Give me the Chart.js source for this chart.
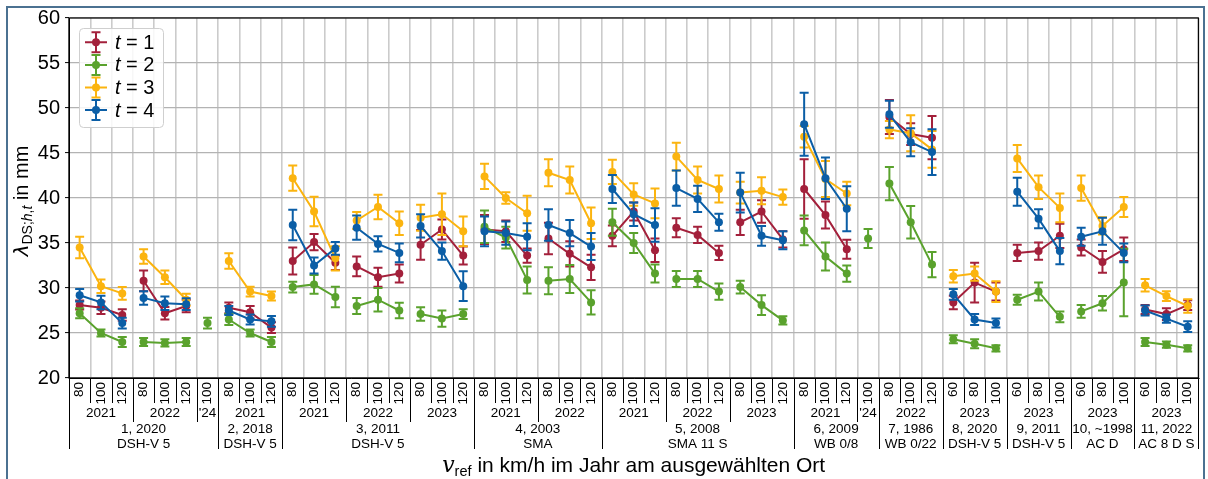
<!DOCTYPE html>
<html>
<head>
<meta charset="utf-8">
<script src="https://cdn.jsdelivr.net/npm/chart.js@4.4.1/dist/chart.umd.min.js"></script>
<style>
  html, body { margin: 0; padding: 0; background: #fff; }
  #wrap { width: 1208px; height: 479px; position: relative; }
</style>
</head>
<body>
<div id="wrap"><canvas id="c" width="1208" height="479"></canvas></div>
<script>
// Reference speed per category (km/h), grouped by measurement year and site
const speeds = [
  '80','100','120','80','100','120','100',
  '80','100','120',
  '80','100','120','80','100','120','80','100','120',
  '80','100','120','80','100','120',
  '80','100','120','80','100','120','80','100','120',
  '80','100','120','100',
  '80','100','120',
  '60','80','100',
  '60','80','100',
  '60','80','100',
  '60','80','100'
];
const yearLabels = ['2021','2022',"'24",'2021','2021','2022','2023','2021','2022',
  '2021','2022','2023','2021',"'24",'2022','2023','2023','2023','2023'];
const yearSizes  = [3,3,1,3,3,3,3,3,3,3,3,3,3,1,3,3,3,3,3];
const siteLabels = [
  ['1, 2020','DSH-V 5'], ['2, 2018','DSH-V 5'], ['3, 2011','DSH-V 5'],
  ['4, 2003','SMA'], ['5, 2008','SMA 11 S'], ['6, 2009','WB 0/8'],
  ['7, 1986','WB 0/22'], ['8, 2020','DSH-V 5'], ['9, 2011','DSH-V 5'],
  ['10, ~1998','AC D'], ['11, 2022','AC 8 D S']
];
const siteSizes = [7,3,9,6,9,4,3,3,3,3,3];

const yTicks = [20,25,30,35,40,45,50,55,60];

// lambda per section t (mm) and its uncertainty
const t1 = [28.1,27.8,27.0,30.8,27.2,28.0,null, 27.8,27.3,25.6,
  33.0,35.1,32.8,32.4,31.2,31.6,34.8,36.5,33.6,
  36.5,36.3,33.6,35.5,33.8,32.3,
  35.8,38.5,34.2,36.7,35.9,33.9,37.3,38.5,35.4,
  41.0,38.1,34.3,null, 49.0,47.1,46.7,
  28.4,30.6,29.6, 33.9,34.1,35.8, 34.5,32.9,34.3, 27.6,27.1,28.1];
const t1Err = [0.5,0.7,0.65,1.15,0.7,0.7,null, 0.6,0.7,0.6,
  1.5,0.9,0.8,1.1,1.05,1.0,1.65,1.1,1.0,
  1.6,1.2,0.8,1.75,1.4,1.4,
  1.15,1.0,1.3,1.05,0.9,0.8,1.4,1.25,0.9,
  3.3,1.5,1.05,null, 1.9,1.2,2.4,
  0.75,2.2,1.0, 0.9,0.95,1.35, 0.9,1.2,1.3, 0.5,0.65,0.55];

const t2 = [27.2,25.0,24.0,24.0,23.9,24.0,26.1, 26.5,25.0,24.0,
  30.1,30.4,29.0,28.0,28.7,27.5,27.1,26.6,27.1,
  36.8,35.6,30.9,30.8,31.0,28.4,
  37.3,35.0,31.6,31.0,31.0,29.6,30.1,28.1,26.4,
  36.4,33.5,31.6,35.5, 41.6,37.3,32.6,
  24.3,23.8,23.3, 28.7,29.6,26.8, 27.4,28.3,30.6, 24.0,23.7,23.3];
const t2Err = [0.55,0.4,0.55,0.45,0.4,0.45,0.6, 0.6,0.4,0.55,
  0.6,1.05,1.15,0.9,1.3,0.85,0.75,0.9,0.55,
  1.8,1.2,1.5,1.5,1.55,1.35,
  1.5,1.1,1.0,0.9,0.9,0.9,0.7,1.1,0.45,
  1.65,1.55,0.9,1.05, 1.85,1.8,1.4,
  0.45,0.5,0.35, 0.55,1.0,0.6, 0.7,0.8,3.75, 0.45,0.35,0.35];

const t3 = [34.5,30.2,29.4,33.5,31.2,28.7,null, 33.0,29.6,29.1,
  42.2,38.5,33.3,37.5,39.0,37.2,37.8,38.2,36.3,
  42.4,40.0,38.3,42.8,42.0,37.2,
  42.9,40.4,39.4,44.6,42.0,41.0,40.6,40.8,40.1,
  46.8,42.1,40.5,null, 47.6,47.2,45.4,
  31.3,31.6,29.6, 44.4,41.2,38.9, 41.1,36.9,39.0, 30.3,29.1,28.0];
const t3Err = [1.2,0.75,0.7,0.8,0.75,0.65,null, 0.85,0.55,0.5,
  1.4,1.65,1.35,0.95,1.35,1.3,1.45,2.3,1.65,
  1.4,0.65,1.95,1.5,1.5,1.75,
  1.35,1.25,1.65,1.55,1.5,1.5,1.2,1.5,0.85,
  1.2,2.0,1.3,null, 0.95,2.0,2.05,
  0.7,0.8,1.15, 1.5,1.3,1.6, 1.4,0.95,1.1, 0.7,0.55,0.75];

const t4 = [29.2,28.4,26.1,28.9,28.3,28.2,null, 27.5,26.5,26.3,
  37.0,32.5,34.4,36.7,34.9,33.9,36.9,34.1,30.2,
  36.3,36.1,35.7,37.0,36.1,34.6,
  41.0,38.2,37.0,41.1,39.9,37.3,40.6,35.8,35.3,
  48.2,42.2,38.8,null, 49.3,46.2,45.1,
  29.3,26.5,26.1, 40.7,37.7,34.1, 35.7,36.3,33.9, 27.5,26.6,25.7];
const t4Err = [0.7,0.75,0.6,0.75,0.75,0.65,null, 0.5,0.55,0.6,
  1.7,0.9,0.7,1.35,0.85,1.05,1.3,0.95,1.65,
  1.65,1.3,1.5,1.75,1.45,1.5,
  1.55,1.3,1.85,1.95,1.45,0.95,2.2,1.1,1.0,
  3.5,2.3,2.5,null, 1.5,1.55,2.55,
  0.6,0.6,0.5, 1.55,1.05,1.45, 1.0,1.5,1.05, 0.55,0.45,0.6];

const SANS = "'Liberation Sans', Arial, Helvetica, sans-serif";

const series = [
  { name: '1', values: t1, errors: t1Err, color: '#a3203b' },
  { name: '2', values: t2, errors: t2Err, color: '#5aa22d' },
  { name: '3', values: t3, errors: t3Err, color: '#fbb40f' },
  { name: '4', values: t4, errors: t4Err, color: '#0b5ea6' }
];

function starts(sizes) {
  const out = []; let i = 0;
  for (const n of sizes) { out.push(i); i += n; }
  return out;
}
const yearStarts = starts(yearSizes);
const siteStarts = starts(siteSizes);
const yearStartSet = new Set(yearStarts);
const siteStartSet = new Set(siteStarts);

// text made of differently styled pieces
function runsWidth(ctx, runs) {
  let w = 0;
  for (const r of runs) { ctx.font = r.font; w += ctx.measureText(r.text).width; }
  return w;
}
function drawRuns(ctx, runs, x, y) {
  let cx = x;
  for (const r of runs) {
    ctx.font = r.font;
    ctx.fillText(r.text, cx, y + (r.dy || 0));
    cx += ctx.measureText(r.text).width;
  }
}

// vertical error bars with caps, drawn under each series' line and markers
const errorBars = {
  id: 'errorBars',
  beforeDatasetDraw(chart, args) {
    const ds = chart.data.datasets[args.index];
    const xs = chart.scales.x, ys = chart.scales.y, ctx = chart.ctx;
    ctx.save();
    ctx.strokeStyle = ds.borderColor;
    ctx.lineWidth = 2;
    ds.data.forEach((v, i) => {
      const e = ds.errors[i];
      if (v == null || e == null) return;
      const px = xs.getPixelForValue(i);
      const yt = ys.getPixelForValue(v + e);
      const yb = ys.getPixelForValue(v - e);
      ctx.beginPath();
      ctx.moveTo(px, yt); ctx.lineTo(px, yb);
      ctx.moveTo(px - 4.5, yt); ctx.lineTo(px + 4.5, yt);
      ctx.moveTo(px - 4.5, yb); ctx.lineTo(px + 4.5, yb);
      ctx.stroke();
    });
    ctx.restore();
  }
};

// white page and outer frame
const page = {
  id: 'page',
  beforeDraw(chart) {
    const ctx = chart.ctx;
    ctx.save();
    ctx.fillStyle = '#fff';
    ctx.fillRect(0, 0, chart.width, chart.height);
    ctx.restore();
  },
  afterDraw(chart) {
    const ctx = chart.ctx;
    ctx.save();
    ctx.strokeStyle = '#4b7191';
    ctx.lineWidth = 2;
    ctx.strokeRect(7, 7, 1197, 500);
    ctx.restore();
  }
};

// plot box, grouped category axis, axis titles and legend
const decor = {
  id: 'decor',
  afterDraw(chart) {
    const { ctx, chartArea: a } = chart;
    const xs = chart.scales.x;
    const step = xs.getPixelForValue(1) - xs.getPixelForValue(0);
    const bx = i => xs.getPixelForValue(i) - step / 2;
    const n = speeds.length;

    ctx.save();
    // plot box
    ctx.strokeStyle = '#000';
    ctx.lineWidth = 1.2;
    ctx.strokeRect(a.left, a.top, a.right - a.left, a.bottom - a.top);

    // separators below the axis
    ctx.lineWidth = 1;
    for (let i = 0; i <= n; i++) {
      let yEnd = 403;
      if (i === 0 || i === n || siteStartSet.has(i)) yEnd = 449;
      else if (yearStartSet.has(i)) yEnd = 422;
      const px = Math.round(bx(i)) + 0.5;
      ctx.beginPath();
      ctx.moveTo(px, a.bottom);
      ctx.lineTo(px, yEnd);
      ctx.stroke();
    }

    // year row
    ctx.fillStyle = '#000';
    ctx.textAlign = 'center';
    ctx.textBaseline = 'middle';
    ctx.font = '13.5px ' + SANS;
    yearLabels.forEach((lab, k) => {
      const s = yearStarts[k], e = s + yearSizes[k];
      ctx.fillText(lab, (bx(s) + bx(e)) / 2, 413);
    });
    // site row
    siteLabels.forEach((lines, k) => {
      const s = siteStarts[k], e = s + siteSizes[k];
      const cx = (bx(s) + bx(e)) / 2;
      ctx.fillText(lines[0], cx, 429.5);
      ctx.fillText(lines[1], cx, 444);
    });

    // x-axis title
    ctx.textAlign = 'left';
    ctx.textBaseline = 'alphabetic';
    const xt = [
      { text: 'v', font: 'italic 22px "DejaVu Serif"' },
      { text: 'ref', font: '14.5px ' + SANS, dy: 4 },
      { text: ' in km/h im Jahr am ausgewählten Ort', font: '21px ' + SANS }
    ];
    const xw = runsWidth(ctx, xt);
    drawRuns(ctx, xt, (a.left + a.right) / 2 - xw / 2, 472);

    // y-axis title
    const yt = [
      { text: 'λ', font: 'italic 20px "DejaVu Sans"' },
      { text: 'DS;', font: '14px ' + SANS, dy: 4 },
      { text: 'h', font: 'italic 14px ' + SANS, dy: 4 },
      { text: ',', font: '14px ' + SANS, dy: 4 },
      { text: 't', font: 'italic 14px ' + SANS, dy: 4 },
      { text: ' in mm', font: '20px ' + SANS }
    ];
    const yw = runsWidth(ctx, yt);
    ctx.save();
    ctx.translate(28, (a.top + a.bottom) / 2 + 3);
    ctx.rotate(-Math.PI / 2);
    drawRuns(ctx, yt, -yw / 2, 0);
    ctx.restore();

    // legend
    const lx = 79.5, ly = 28.5, lw = 84, lh = 99;
    ctx.fillStyle = 'rgba(255,255,255,0.85)';
    ctx.strokeStyle = '#cfcfcf';
    ctx.lineWidth = 1;
    ctx.beginPath();
    ctx.roundRect(lx, ly, lw, lh, 4);
    ctx.fill();
    ctx.stroke();
    chart.data.datasets.forEach((ds, k) => {
      const cy = 42.3 + k * 22.6;
      const sx = 96;
      ctx.strokeStyle = ds.borderColor;
      ctx.fillStyle = ds.borderColor;
      ctx.lineWidth = 2;
      ctx.beginPath();
      ctx.moveTo(85, cy); ctx.lineTo(107, cy);
      ctx.moveTo(sx, cy - 10); ctx.lineTo(sx, cy + 10);
      ctx.moveTo(sx - 4.5, cy - 10); ctx.lineTo(sx + 4.5, cy - 10);
      ctx.moveTo(sx - 4.5, cy + 10); ctx.lineTo(sx + 4.5, cy + 10);
      ctx.stroke();
      ctx.beginPath();
      ctx.arc(sx, cy, 4, 0, Math.PI * 2);
      ctx.fill();
      ctx.fillStyle = '#000';
      ctx.textBaseline = 'middle';
      drawRuns(ctx, [
        { text: ds.label.charAt(0), font: 'italic 20px ' + SANS },
        { text: ds.label.slice(1), font: '20px ' + SANS }
      ], 115, cy + 1);
    });
    ctx.restore();
  }
};

const chart = new Chart(document.getElementById('c'), {
  type: 'line',
  data: {
    labels: speeds,
    datasets: series.map((s, k) => ({
      label: 't = ' + s.name,
      data: s.values,
      errors: s.errors,
      borderColor: s.color,
      backgroundColor: s.color,
      borderWidth: 2,
      pointRadius: 4,
      pointHoverRadius: 4,
      pointBorderWidth: 0,
      tension: 0,
      spanGaps: false,
      order: 4 - k,
      segment: {
        borderColor: ctx => yearStartSet.has(ctx.p1DataIndex) ? 'rgba(0,0,0,0)' : undefined
      }
    }))
  },
  options: {
    responsive: false,
    animation: false,
    devicePixelRatio: 1,
    events: [],
    layout: { padding: { left: 0, right: 9, top: 18, bottom: 0 } },
    plugins: { legend: { display: false }, tooltip: { enabled: false } },
    scales: {
      x: {
        type: 'category',
        offset: true,
        grid: { offset: true, color: '#cbcbcb', lineWidth: 1.6, drawTicks: false },
        border: { display: true, color: '#000', width: 1 },
        ticks: {
          autoSkip: false, minRotation: 90, maxRotation: 90, padding: 4,
          color: '#000', font: { family: SANS, size: 13.5 }
        },
        afterFit: s => { s.height = 101; }
      },
      y: {
        min: 20, max: 60,
        afterBuildTicks: s => { s.ticks = yTicks.map(v => ({ value: v })); },
        grid: { color: '#b3b3b3', lineWidth: 1.2, tickLength: 4, tickColor: '#000', tickWidth: 1 },
        border: { display: true, color: '#000', width: 1 },
        ticks: { padding: 5, color: '#000', font: { family: SANS, size: 20 } },
        afterFit: s => { s.width = 69; }
      }
    }
  },
  plugins: [page, errorBars, decor]
});
</script>
</body>
</html>
